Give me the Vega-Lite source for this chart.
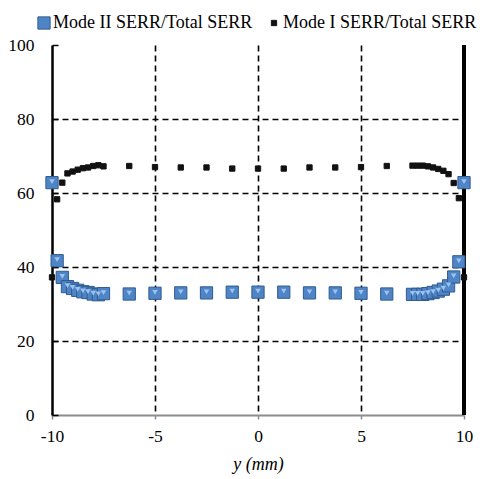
{
  "$schema": "https://vega.github.io/schema/vega-lite/v6.json",
  "width": 412,
  "height": 370,
  "autosize": {"type": "none"},
  "padding": {"left": 52, "top": 45, "right": 18, "bottom": 64},
  "background": "white",
  "config": {
    "font": "Times New Roman",
    "view": {"stroke": null}
  },
  "data": {
    "values": [
      {"x": -10, "series": "Mode II SERR/Total SERR", "v": 62.8},
      {"x": -9.75, "series": "Mode II SERR/Total SERR", "v": 41.7},
      {"x": -9.5, "series": "Mode II SERR/Total SERR", "v": 37.2},
      {"x": -9.25, "series": "Mode II SERR/Total SERR", "v": 34.7},
      {"x": -9.0, "series": "Mode II SERR/Total SERR", "v": 34.2},
      {"x": -8.75, "series": "Mode II SERR/Total SERR", "v": 33.7},
      {"x": -8.5, "series": "Mode II SERR/Total SERR", "v": 33.3},
      {"x": -8.25, "series": "Mode II SERR/Total SERR", "v": 33.1},
      {"x": -8.0, "series": "Mode II SERR/Total SERR", "v": 32.7},
      {"x": -7.75, "series": "Mode II SERR/Total SERR", "v": 32.5},
      {"x": -7.5, "series": "Mode II SERR/Total SERR", "v": 32.8},
      {"x": -6.25, "series": "Mode II SERR/Total SERR", "v": 32.7},
      {"x": -5.0, "series": "Mode II SERR/Total SERR", "v": 32.9},
      {"x": -3.75, "series": "Mode II SERR/Total SERR", "v": 33.0},
      {"x": -2.5, "series": "Mode II SERR/Total SERR", "v": 33.0},
      {"x": -1.25, "series": "Mode II SERR/Total SERR", "v": 33.2},
      {"x": 0, "series": "Mode II SERR/Total SERR", "v": 33.2},
      {"x": 1.25, "series": "Mode II SERR/Total SERR", "v": 33.2},
      {"x": 2.5, "series": "Mode II SERR/Total SERR", "v": 33.0},
      {"x": 3.75, "series": "Mode II SERR/Total SERR", "v": 33.0},
      {"x": 5.0, "series": "Mode II SERR/Total SERR", "v": 32.9},
      {"x": 6.25, "series": "Mode II SERR/Total SERR", "v": 32.7},
      {"x": 7.5, "series": "Mode II SERR/Total SERR", "v": 32.6},
      {"x": 7.75, "series": "Mode II SERR/Total SERR", "v": 32.6},
      {"x": 8.0, "series": "Mode II SERR/Total SERR", "v": 32.6},
      {"x": 8.25, "series": "Mode II SERR/Total SERR", "v": 32.8},
      {"x": 8.5, "series": "Mode II SERR/Total SERR", "v": 33.1},
      {"x": 8.75, "series": "Mode II SERR/Total SERR", "v": 33.5},
      {"x": 9.0, "series": "Mode II SERR/Total SERR", "v": 34.0},
      {"x": 9.25, "series": "Mode II SERR/Total SERR", "v": 34.9},
      {"x": 9.5, "series": "Mode II SERR/Total SERR", "v": 37.3},
      {"x": 9.75, "series": "Mode II SERR/Total SERR", "v": 41.4},
      {"x": 10, "series": "Mode II SERR/Total SERR", "v": 62.8},
      {"x": -10, "series": "Mode I SERR/Total SERR", "v": 37.2},
      {"x": -9.75, "series": "Mode I SERR/Total SERR", "v": 58.3},
      {"x": -9.5, "series": "Mode I SERR/Total SERR", "v": 62.8},
      {"x": -9.25, "series": "Mode I SERR/Total SERR", "v": 65.3},
      {"x": -9.0, "series": "Mode I SERR/Total SERR", "v": 65.8},
      {"x": -8.75, "series": "Mode I SERR/Total SERR", "v": 66.3},
      {"x": -8.5, "series": "Mode I SERR/Total SERR", "v": 66.7},
      {"x": -8.25, "series": "Mode I SERR/Total SERR", "v": 66.9},
      {"x": -8.0, "series": "Mode I SERR/Total SERR", "v": 67.3},
      {"x": -7.75, "series": "Mode I SERR/Total SERR", "v": 67.5},
      {"x": -7.5, "series": "Mode I SERR/Total SERR", "v": 67.2},
      {"x": -6.25, "series": "Mode I SERR/Total SERR", "v": 67.3},
      {"x": -5.0, "series": "Mode I SERR/Total SERR", "v": 67.0},
      {"x": -3.75, "series": "Mode I SERR/Total SERR", "v": 66.9},
      {"x": -2.5, "series": "Mode I SERR/Total SERR", "v": 66.9},
      {"x": -1.25, "series": "Mode I SERR/Total SERR", "v": 66.6},
      {"x": 0, "series": "Mode I SERR/Total SERR", "v": 66.6},
      {"x": 1.25, "series": "Mode I SERR/Total SERR", "v": 66.6},
      {"x": 2.5, "series": "Mode I SERR/Total SERR", "v": 66.9},
      {"x": 3.75, "series": "Mode I SERR/Total SERR", "v": 66.9},
      {"x": 5.0, "series": "Mode I SERR/Total SERR", "v": 67.0},
      {"x": 6.25, "series": "Mode I SERR/Total SERR", "v": 67.3},
      {"x": 7.5, "series": "Mode I SERR/Total SERR", "v": 67.4},
      {"x": 7.75, "series": "Mode I SERR/Total SERR", "v": 67.4},
      {"x": 8.0, "series": "Mode I SERR/Total SERR", "v": 67.4},
      {"x": 8.25, "series": "Mode I SERR/Total SERR", "v": 67.2},
      {"x": 8.5, "series": "Mode I SERR/Total SERR", "v": 66.9},
      {"x": 8.75, "series": "Mode I SERR/Total SERR", "v": 66.5},
      {"x": 9.0, "series": "Mode I SERR/Total SERR", "v": 66.0},
      {"x": 9.25, "series": "Mode I SERR/Total SERR", "v": 65.1},
      {"x": 9.5, "series": "Mode I SERR/Total SERR", "v": 62.7},
      {"x": 9.75, "series": "Mode I SERR/Total SERR", "v": 58.6},
      {"x": 10, "series": "Mode I SERR/Total SERR", "v": 37.2}
    ]
  },
  "layer": [
    {
      "mark": {"type": "rule", "color": "#000000", "strokeWidth": 2.5},
      "encoding": {"x": {"datum": 10, "type": "quantitative", "scale": {"domain": [-10, 10]}}}
    },
    {
      "mark": {"type": "point", "shape": "square", "filled": true, "opacity": 1, "strokeWidth": 1},
      "encoding": {
        "x": {
          "field": "x", "type": "quantitative",
          "scale": {"domain": [-10, 10], "nice": false, "zero": false},
          "axis": {
            "values": [-10, -5, 0, 5, 10],
            "labelExpr": "datum.value < 0 ? '-' + abs(datum.value) : '' + datum.value",
            "title": "y (mm)",
            "titleFont": "Times New Roman",
            "titleFontStyle": "italic",
            "titleFontWeight": "normal",
            "titleFontSize": 18,
            "titleColor": "#000000",
            "titlePadding": 11,
            "labelFont": "Times New Roman",
            "labelFontSize": 17.5,
            "labelColor": "#000000",
            "labelPadding": 8,
            "labelFlush": false,
            "domainColor": "#8c8c8c",
            "domainWidth": 2,
            "tickColor": "#8c8c8c",
            "tickWidth": 1.5,
            "tickSize": 4,
            "grid": true,
            "gridColor": "#000000",
            "gridWidth": 1.6,
            "gridDash": [6, 4],
            "gridOpacity": {"condition": {"test": "datum.value <= -10 || datum.value >= 10", "value": 0}, "value": 1}
          }
        },
        "y": {
          "field": "v", "type": "quantitative",
          "scale": {"domain": [0, 100], "nice": false},
          "axis": {
            "values": [0, 20, 40, 60, 80, 100],
            "title": null,
            "labelFont": "Times New Roman",
            "labelFontSize": 17.5,
            "labelColor": "#000000",
            "labelPadding": 24,
            "domainColor": "#000000",
            "domainWidth": 2.5,
            "tickColor": "#000000",
            "tickWidth": 1.5,
            "tickSize": -6,
            "grid": true,
            "gridColor": "#000000",
            "gridWidth": 1.6,
            "gridDash": [6, 4],
            "gridOpacity": {"condition": {"test": "datum.value <= 0 || datum.value >= 100", "value": 0}, "value": 1}
          }
        },
        "color": {
          "field": "series", "type": "nominal",
          "scale": {"domain": ["Mode II SERR/Total SERR", "Mode I SERR/Total SERR"], "range": ["#4f85c6", "#111111"]},
          "legend": {
            "title": null,
            "orient": "none",
            "legendX": -17,
            "legendY": -31,
            "direction": "horizontal",
            "labelFont": "Times New Roman",
            "labelFontSize": 18,
            "labelColor": "#000000",
            "labelLimit": 400,
            "labelOffset": 0,
            "columnPadding": 12,
            "symbolStrokeWidth": 1
          }
        },
        "stroke": {
          "field": "series", "type": "nominal",
          "scale": {"domain": ["Mode II SERR/Total SERR", "Mode I SERR/Total SERR"], "range": ["#2f5b8f", "#111111"]},
          "legend": null
        },
        "size": {
          "field": "series", "type": "nominal",
          "scale": {"domain": ["Mode II SERR/Total SERR", "Mode I SERR/Total SERR"], "range": [150, 28]},
          "legend": null
        }
      }
    },
    {
      "transform": [{"filter": "datum.series === 'Mode II SERR/Total SERR'"}],
      "mark": {"type": "point", "shape": "triangle-down", "filled": true, "color": "#9cc3ee", "opacity": 1, "size": 30, "yOffset": -1},
      "encoding": {
        "x": {"field": "x", "type": "quantitative"},
        "y": {"field": "v", "type": "quantitative"}
      }
    }
  ]
}
